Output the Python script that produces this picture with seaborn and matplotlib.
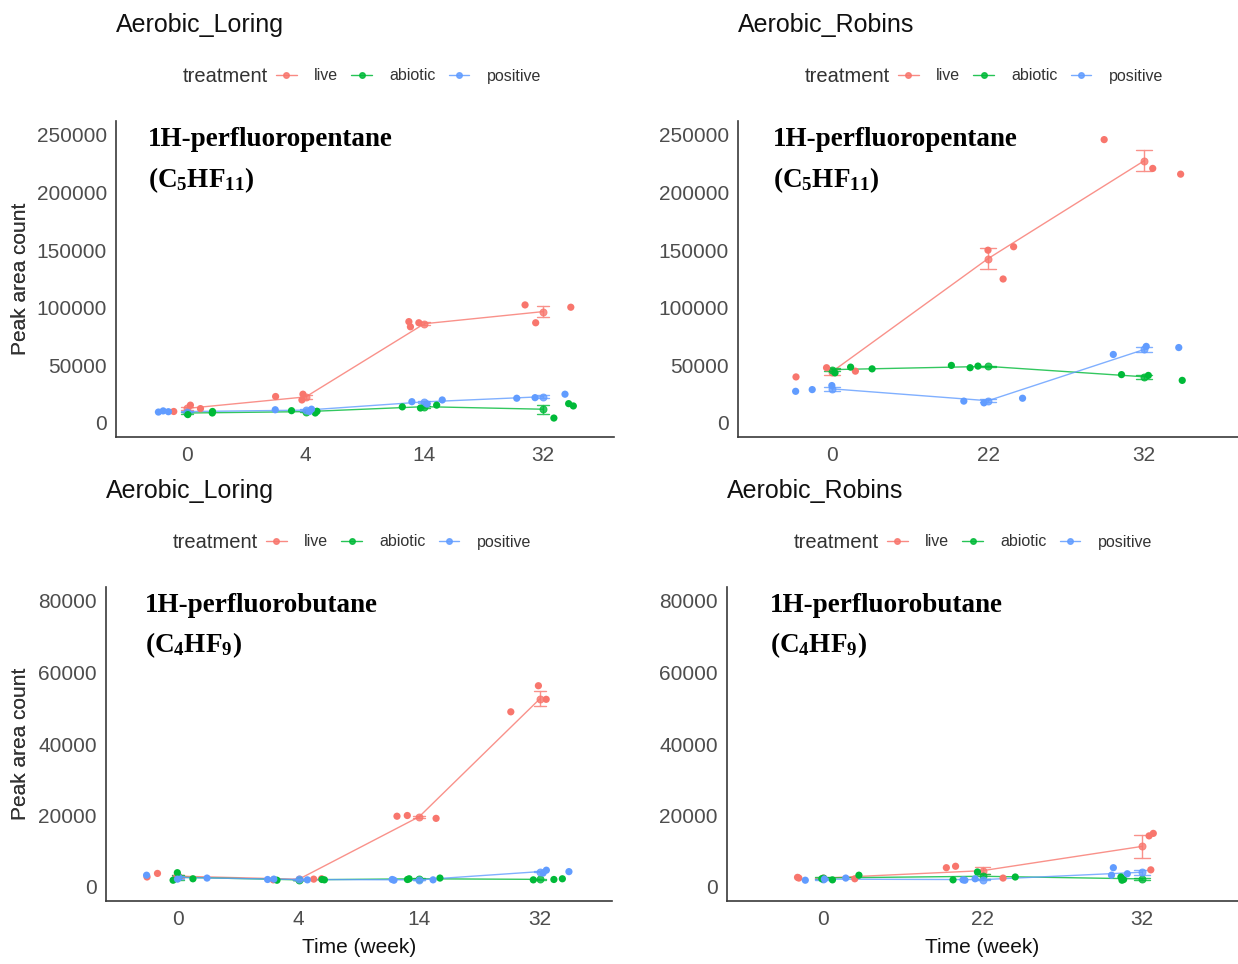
import numpy as np
import pandas as pd
import matplotlib
matplotlib.use("Agg")
import matplotlib.pyplot as plt
from matplotlib.lines import Line2D
import seaborn as sns

treatments = ["live", "abiotic", "positive"]
palette = ["#F8766D", "#00BA38", "#619CFF"]

# Aerobic_Loring, 1H-perfluoropentane (three replicates per week)
loring_c5_weeks = ["0", "4", "14", "32"]
loring_c5_live = [[15500, 12500, 10000], [20000, 23000, 25000], [88000, 87000, 83500], [102500, 87000, 100500]]
loring_c5_abiotic = [[7300, 8700, 10000], [8700, 10700, 10200], [15500, 13000, 14000], [14800, 4300, 16800]]
loring_c5_positive = [[10500, 9800, 9500], [12000, 11500, 10000], [16500, 20000, 18500], [25000, 22000, 21500]]

# Aerobic_Robins, 1H-perfluoropentane
robins_c5_weeks = ["0", "22", "32"]
robins_c5_live = [[40000, 45000, 48000], [150000, 125000, 153000], [216000, 246000, 221000]]
robins_c5_abiotic = [[48500, 47000, 43500], [49400, 50000, 48000], [37000, 42000, 41300]]
robins_c5_positive = [[32500, 27500, 29000], [21500, 19000, 17500], [65500, 59500, 66500]]

# Aerobic_Loring, 1H-perfluorobutane
loring_c4_weeks = ["0", "4", "14", "32"]
loring_c4_live = [[3800, 2800, 2500], [2300, 2200, 2000], [20000, 19800, 19200], [52500, 49000, 56300]]
loring_c4_abiotic = [[2300, 1900, 4000], [2000, 2100, 1900], [2500, 2300, 2100], [2000, 2300, 2100]]
loring_c4_positive = [[3300, 2200, 2500], [2000, 2100, 2200], [1900, 2100, 2000], [4700, 3900, 4300]]

# Aerobic_Robins, 1H-perfluorobutane
robins_c4_weeks = ["0", "22", "32"]
robins_c4_live = [[2500, 2300, 2700], [5800, 5400, 2500], [15000, 14300, 4800]]
robins_c4_abiotic = [[3300, 2300, 2000], [4200, 2000, 2800], [1900, 2100, 2800]]
robins_c4_positive = [[2500, 2200, 1900], [2000, 2300, 1900], [3700, 3300, 5400]]

c5_yticks = [0, 50000, 100000, 150000, 200000, 250000]
c4_yticks = [0, 20000, 40000, 60000, 80000]

sns.set_style("white")
plt.rcParams["font.family"] = ["Liberation Sans", "DejaVu Sans"]
plt.rcParams["mathtext.fontset"] = "custom"
plt.rcParams["mathtext.rm"] = "Liberation Serif:bold"
plt.rcParams["mathtext.it"] = "Liberation Serif:bold"
plt.rcParams["mathtext.bf"] = "Liberation Serif:bold"

W, H = 1238, 964
fig = plt.figure(figsize=(W / 100, H / 100), dpi=100)
fig.patch.set_facecolor("white")


def tidy(weeks, live, abiotic, positive):
    rows = []
    for name, series in zip(treatments, [live, abiotic, positive]):
        for wk, reps in zip(weeks, series):
            for v in reps:
                rows.append({"week": wk, "treatment": name, "count": v})
    return pd.DataFrame(rows)


panels = [
    dict(site="Aerobic_Loring", weeks=loring_c5_weeks,
         data=(loring_c5_live, loring_c5_abiotic, loring_c5_positive),
         name="1H-perfluoropentane", formula=r"(C$_{5}$HF$_{11}$)",
         yticks=c5_yticks, box=(116, 614, 120.6, 437.4), text_x=148, xlabel=False, seed=3),
    dict(site="Aerobic_Robins", weeks=robins_c5_weeks,
         data=(robins_c5_live, robins_c5_abiotic, robins_c5_positive),
         name="1H-perfluoropentane", formula=r"(C$_{5}$HF$_{11}$)",
         yticks=c5_yticks, box=(738, 1238, 120.6, 437.4), text_x=773, xlabel=False, seed=7),
    dict(site="Aerobic_Loring", weeks=loring_c4_weeks,
         data=(loring_c4_live, loring_c4_abiotic, loring_c4_positive),
         name="1H-perfluorobutane", formula=r"(C$_{4}$HF$_{9}$)",
         yticks=c4_yticks, box=(106, 612, 586.7, 901.3), text_x=145, xlabel=True, seed=11),
    dict(site="Aerobic_Robins", weeks=robins_c4_weeks,
         data=(robins_c4_live, robins_c4_abiotic, robins_c4_positive),
         name="1H-perfluorobutane", formula=r"(C$_{4}$HF$_{9}$)",
         yticks=c4_yticks, box=(727, 1238, 586.7, 901.3), text_x=770, xlabel=True, seed=5),
]

for p in panels:
    left, right, top, bottom = p["box"]
    ax = fig.add_axes([left / W, 1 - bottom / H, (right - left) / W, (bottom - top) / H])
    df = tidy(p["weeks"], *p["data"])
    n = len(p["weeks"])

    np.random.seed(p["seed"])
    sns.stripplot(data=df, x="week", y="count", hue="treatment", order=p["weeks"],
                  hue_order=treatments, palette=palette, jitter=0.27, size=5.2,
                  linewidth=0, legend=False, ax=ax, zorder=3)
    n_before = len(ax.lines)
    sns.pointplot(data=df, x="week", y="count", hue="treatment", order=p["weeks"],
                  hue_order=treatments, palette=palette, errorbar="se", capsize=0.1,
                  markersize=5, linewidth=1.0, err_kws={"linewidth": 1.0},
                  dodge=False, legend=False, ax=ax)
    for ln in ax.lines[n_before:]:
        ln.set_alpha(0.8)

    ymax = p["yticks"][-1]
    ax.set_ylim(-0.05 * ymax, 1.05 * ymax)
    ax.set_xlim(-0.6, n - 1 + 0.6)
    ax.set_yticks(p["yticks"])
    ax.set_yticklabels([str(v) for v in p["yticks"]])
    sns.despine(ax=ax)
    for s in ("left", "bottom"):
        ax.spines[s].set_color("#3a3a3a")
        ax.spines[s].set_linewidth(1.2)
    ax.tick_params(axis="both", length=3.5, width=1, color="#3a3a3a",
                   labelsize=15, labelcolor="#4D4D4D", pad=3)

    ax.set_ylabel("Peak area count", fontsize=15, color="#333333")
    ax.yaxis.set_label_coords((30 - left) / (right - left), 0.5)
    if p["xlabel"]:
        ax.set_xlabel("Time (week)", fontsize=15, color="#111111")
        ax.xaxis.set_label_coords(0.5, -(938 - bottom) / (bottom - top))
    else:
        ax.set_xlabel("")

    # compound label inside the panel
    tx = (p["text_x"] - left) / (right - left)
    ax.text(tx, 0.98, p["name"], transform=ax.transAxes, ha="left", va="top",
            fontsize=19.5, fontweight="bold", family="Liberation Serif", color="black")
    ax.text(tx, 0.86, p["formula"], transform=ax.transAxes, ha="left", va="top",
            fontsize=19.5, fontweight="bold", family="Liberation Serif", color="black")

    # site title and treatment legend above the panel
    title_y = 25 if top < 300 else 491
    leg_y = 76 if top < 300 else 542
    fig.text(left / W, 1 - title_y / H, p["site"], ha="left", va="center",
             fontsize=18, color="#111111")
    tx0 = left + 67
    fig.text(tx0 / W, 1 - leg_y / H, "treatment", ha="left", va="center",
             fontsize=14.5, color="#333333")
    handles = [Line2D([], [], color=c, marker="o", markersize=4, lw=1, alpha=0.85)
               for c in palette]
    fig.legend(handles, treatments, loc="center left",
               bbox_to_anchor=((tx0 + 93) / W, 1 - leg_y / H), ncol=3,
               frameon=False, fontsize=11.5, borderpad=0, borderaxespad=0,
               handlelength=1.3, handletextpad=1.1, columnspacing=0.8,
               labelcolor="#333333")

fig.savefig("out.png", dpi=100, facecolor="white")
